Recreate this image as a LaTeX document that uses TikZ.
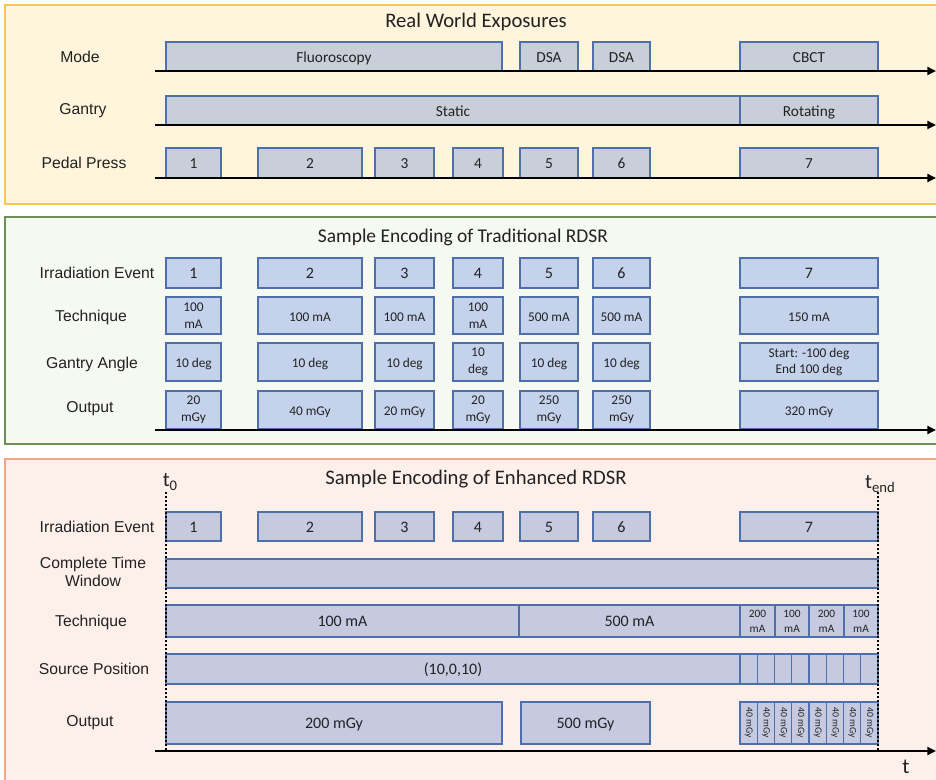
\documentclass[tikz,border=0pt]{standalone}
\usepackage{fontspec}
\setmainfont{Carlito}
\newfontfamily\labfont{Liberation Sans}
\usetikzlibrary{arrows.meta}

\definecolor{panelAfill}{HTML}{FFF5DD}
\definecolor{panelAline}{HTML}{F7C84A}
\definecolor{panelBfill}{HTML}{F6F9F2}
\definecolor{panelBline}{HTML}{6F8F58}
\definecolor{panelCfill}{HTML}{FDF0EB}
\definecolor{panelCline}{HTML}{F3A587}
\definecolor{boxAfill}{HTML}{C8CFD9}
\definecolor{boxBfill}{HTML}{C4D3EB}
\definecolor{boxCfill}{HTML}{C5CAE0}
\definecolor{boxline}{HTML}{4F6FAA}
\definecolor{inktext}{HTML}{222222}

% box spanning x1..x2, y1..y2 (pixel units, y downward)
\newcommand\ebox[7]{%
  \node[#1,minimum width={(#5-(#3))*0.75pt},minimum height={(#6-(#4))*0.75pt}]
    (#2) at ({(#3+#5)/2},{(#4+#6)/2}) {#7};}

\tikzset{
  box/.style={draw=boxline, line width=1.1pt, inner sep=0pt, outer sep=0pt,
    text=inktext, align=center, font=\fontsize{11.5}{12}\selectfont,
    text height=8.4pt, text depth=0pt},
  boxA/.style={box, fill=boxAfill},
  boxB/.style={box, fill=boxBfill, font=\fontsize{10}{12.5}\selectfont},
  boxC/.style={box, fill=boxCfill, font=\fontsize{12}{13}\selectfont},
  ml/.style={text height={}, text depth={}},
  tiny/.style={ml, font=\fontsize{8.5}{11}\selectfont},
  rowlab/.style={font=\labfont\fontsize{11.8}{14}\selectfont, text=inktext, align=center},
  ptitle/.style={font=\fontsize{15.5}{18}\selectfont, text=inktext},
  axis/.style={line width=1.8pt, -{Triangle[length=6.5pt,width=6pt]}},
  tline/.style={line width=1.5pt, dash pattern=on 1.5pt off 1.5pt},
  panel/.style={line width=1.5pt}
}

\begin{document}
\begin{tikzpicture}[x=0.75pt,y=-0.75pt]
\useasboundingbox (0,0) rectangle (936,780);

% ---------- panels ----------
\path[panel, draw=panelAline, fill=panelAfill] (5,5) rectangle (945,204);
\path[panel, draw=panelBline, fill=panelBfill] (5,217) rectangle (945,444);
\path[panel, draw=panelCline, fill=panelCfill] (5,459) rectangle (945,790);

% ---------- Real World Exposures ----------
\node[ptitle] (titleA) at (476,22) {Real World Exposures};
\node[rowlab] (lmode) at (80,57) {Mode};
\node[rowlab] (lgantry) at (83,111) {Gantry};
\node[rowlab] (lpedal) at (84,163) {Pedal Press};

\ebox{boxA}{fluoro}{166}{42}{502}{71}{Fluoroscopy}
\ebox{boxA}{dsaA}{520}{42}{578}{71}{DSA}
\ebox{boxA}{dsaB}{593}{42}{650}{71}{DSA}
\ebox{boxA}{cbct}{740}{42}{878}{71}{CBCT}

\ebox{boxA}{static}{166}{96}{740}{125}{Static}
\ebox{boxA}{rotating}{740}{96}{878}{125}{Rotating}

\ebox{boxA}{pA}{166}{148}{221}{178}{1}
\ebox{boxA}{pB}{258}{148}{362}{178}{2}
\ebox{boxA}{pC}{375}{148}{434}{178}{3}
\ebox{boxA}{pD}{453}{148}{503}{178}{4}
\ebox{boxA}{pE}{520}{148}{578}{178}{5}
\ebox{boxA}{pF}{593}{148}{650}{178}{6}
\ebox{boxA}{pG}{740}{148}{878}{178}{7}

\coordinate (axAs) at (155,71);  \coordinate (axAe) at (936,71);
\coordinate (axBs) at (155,125); \coordinate (axBe) at (936,125);
\coordinate (axCs) at (155,178); \coordinate (axCe) at (936,178);
\draw[axis] (axAs) -- (axAe);
\draw[axis] (axBs) -- (axBe);
\draw[axis] (axCs) -- (axCe);

% ---------- Traditional RDSR ----------
\node[ptitle, font=\fontsize{14.6}{17}\selectfont] (titleB) at (463,237) {Sample Encoding of Traditional RDSR};
\node[rowlab] (lev) at (97,273) {Irradiation Event};
\node[rowlab] (ltech) at (91,317) {Technique};
\node[rowlab] (lang) at (92,364) {Gantry Angle};
\node[rowlab] (lout) at (90,409) {Output};

\ebox{boxB,font=\fontsize{12}{13}\selectfont}{eA}{166}{258}{221}{288}{1}
\ebox{boxB,font=\fontsize{12}{13}\selectfont}{eB}{258}{258}{362}{288}{2}
\ebox{boxB,font=\fontsize{12}{13}\selectfont}{eC}{375}{258}{434}{288}{3}
\ebox{boxB,font=\fontsize{12}{13}\selectfont}{eD}{453}{258}{503}{288}{4}
\ebox{boxB,font=\fontsize{12}{13}\selectfont}{eE}{520}{258}{578}{288}{5}
\ebox{boxB,font=\fontsize{12}{13}\selectfont}{eF}{593}{258}{650}{288}{6}
\ebox{boxB,font=\fontsize{12}{13}\selectfont}{eG}{740}{258}{878}{288}{7}

\ebox{boxB,ml}{tA}{166}{297}{221}{334}{100\\mA}
\ebox{boxB}{tB}{258}{297}{362}{334}{100 mA}
\ebox{boxB}{tC}{375}{297}{434}{334}{100 mA}
\ebox{boxB,ml}{tD}{453}{297}{503}{334}{100\\mA}
\ebox{boxB}{tE}{520}{297}{578}{334}{500 mA}
\ebox{boxB}{tF}{593}{297}{650}{334}{500 mA}
\ebox{boxB}{tG}{740}{297}{878}{334}{150 mA}

\ebox{boxB}{gA}{166}{343}{221}{381}{10 deg}
\ebox{boxB}{gB}{258}{343}{362}{381}{10 deg}
\ebox{boxB}{gC}{375}{343}{434}{381}{10 deg}
\ebox{boxB,ml}{gD}{453}{343}{503}{381}{10\\deg}
\ebox{boxB}{gE}{520}{343}{578}{381}{10 deg}
\ebox{boxB}{gF}{593}{343}{650}{381}{10 deg}
\ebox{boxB,ml}{gG}{740}{343}{878}{381}{Start: -100 deg\\End 100 deg}

\ebox{boxB,ml}{oA}{166}{391}{221}{429}{20\\mGy}
\ebox{boxB}{oB}{258}{391}{362}{429}{40 mGy}
\ebox{boxB}{oC}{375}{391}{434}{429}{20 mGy}
\ebox{boxB,ml}{oD}{453}{391}{503}{429}{20\\mGy}
\ebox{boxB,ml}{oE}{520}{391}{578}{429}{250\\mGy}
\ebox{boxB,ml}{oF}{593}{391}{650}{429}{250\\mGy}
\ebox{boxB}{oG}{740}{391}{878}{429}{320 mGy}

\coordinate (axDs) at (155,430); \coordinate (axDe) at (936,430);
\draw[axis] (axDs) -- (axDe);

% ---------- Enhanced RDSR ----------
\node[ptitle] (titleC) at (476,479) {Sample Encoding of Enhanced RDSR};
\node[font=\fontsize{15.5}{18}\selectfont, text=inktext] (tzero) at (170,482)
  {t\raisebox{-0.45ex}{\fontsize{11}{12}\selectfont 0}};
\node[font=\fontsize{15.5}{18}\selectfont, text=inktext] (tend) at (880,484)
  {t\raisebox{-0.45ex}{\fontsize{11}{12}\selectfont end}};
\node[font=\fontsize{16}{18}\selectfont, text=inktext] (tlab) at (906,767) {t};

\node[rowlab] (lev2) at (97,527) {Irradiation Event};
\node[rowlab] (lctw) at (93,572) {Complete Time\\Window};
\node[rowlab] (ltech2) at (91,622) {Technique};
\node[rowlab] (lsrc) at (94,669) {Source Position};
\node[rowlab] (lout2) at (90,723) {Output};

\ebox{boxC}{xA}{166}{512}{221}{541}{1}
\ebox{boxC}{xB}{258}{512}{362}{541}{2}
\ebox{boxC}{xC}{375}{512}{434}{541}{3}
\ebox{boxC}{xD}{453}{512}{503}{541}{4}
\ebox{boxC}{xE}{520}{512}{578}{541}{5}
\ebox{boxC}{xF}{593}{512}{650}{541}{6}
\ebox{boxC}{xG}{740}{512}{878}{541}{7}

\ebox{boxC}{ctw}{166}{559}{878}{588}{}

\ebox{boxC}{techA}{166}{605}{519}{637}{100 mA}
\ebox{boxC}{techB}{519}{605}{740}{637}{500 mA}
\ebox{boxC,tiny}{techC}{740}{605}{775}{637}{200\\mA}
\ebox{boxC,tiny}{techD}{775}{605}{809}{637}{100\\mA}
\ebox{boxC,tiny}{techE}{809}{605}{844}{637}{200\\mA}
\ebox{boxC,tiny}{techF}{844}{605}{878}{637}{100\\mA}

\ebox{boxC}{srcA}{166}{654}{740}{684}{(10,0,10)}
\foreach \i in {0,...,7}{
  \ebox{boxC}{srcS\i}{740+17.25*\i}{654}{740+17.25*(\i+1)}{684}{}
}

\ebox{boxC}{outA}{166}{702}{502}{744}{200 mGy}
\ebox{boxC}{outB}{521}{702}{650}{744}{500 mGy}
\foreach \i in {0,...,7}{
  \ebox{boxC,ml}{outS\i}{740+17.25*\i}{702}{740+17.25*(\i+1)}{744}
    {\rotatebox{-90}{\fontsize{7.3}{8}\selectfont 40 mGy}}
}

% boundaries of the complete time window
\coordinate (tzs) at (166,492); \coordinate (tze) at (166,751);
\coordinate (tes) at (878,492); \coordinate (tee) at (878,751);
\draw[tline] (tzs) -- (tze);
\draw[tline] (tes) -- (tee);

\coordinate (axEs) at (155,751); \coordinate (axEe) at (936,751);
\draw[axis] (axEs) -- (axEe);
\end{tikzpicture}
\end{document}
